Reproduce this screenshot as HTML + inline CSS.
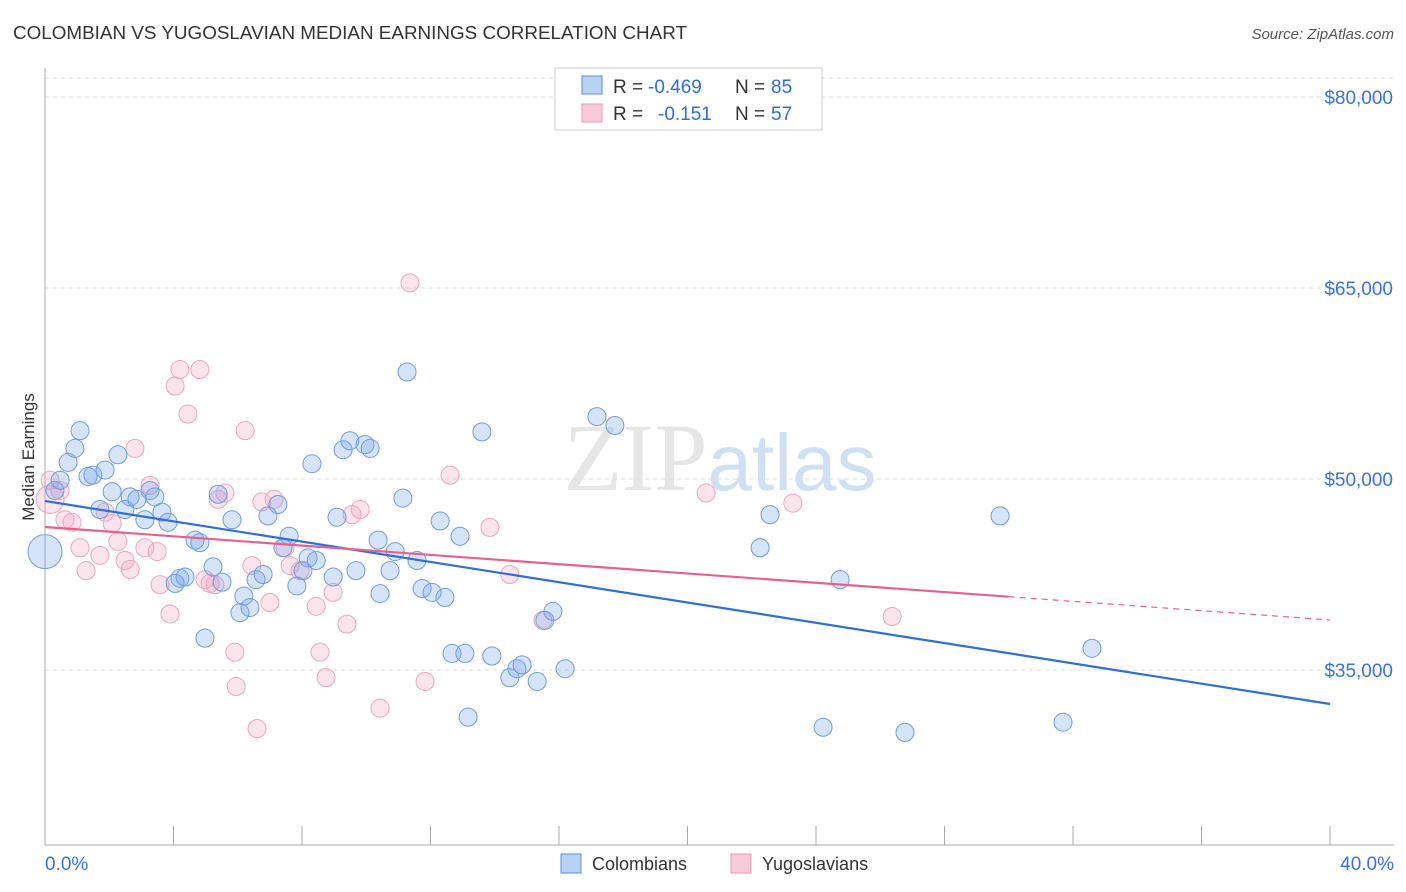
<!DOCTYPE html>
<html><head><meta charset="utf-8"><style>
body{margin:0;background:#fff;font-family:"Liberation Sans",sans-serif;}
svg{display:block}
</style></head><body>
<svg id="chart" width="1406" height="892" xmlns="http://www.w3.org/2000/svg">
<text x="13" y="39" font-size="18" fill="#333" textLength="674" lengthAdjust="spacingAndGlyphs">COLOMBIAN VS YUGOSLAVIAN MEDIAN EARNINGS CORRELATION CHART</text>
<text x="1394" y="39" font-size="15" fill="#555" text-anchor="end" font-style="italic">Source: ZipAtlas.com</text>
<text transform="translate(34,457) rotate(-90)" font-size="17" fill="#333" text-anchor="middle">Median Earnings</text>
<text x="720" y="490" font-size="96" fill="#e6e6e6" text-anchor="middle" font-family="Liberation Serif,serif">ZIP<tspan fill="#cfe0f4" font-family="Liberation Sans,sans-serif" font-size="80">atlas</tspan></text>
<g id="grid"></g><g id="axes"></g><g id="pts"></g><g id="lines"></g>
<g>
<rect x="555" y="68" width="267" height="62" fill="#fff" stroke="#ccc"/>
<rect x="582" y="76" width="20" height="18" fill="#b8d2f4" stroke="#5b8fd9"/>
<rect x="582" y="104" width="20" height="18" fill="#f9cbd9" stroke="#e79ab5"/>
<text x="613" y="93" font-size="19" fill="#333">R =</text>
<text x="648" y="93" font-size="19" fill="#2f6fd6">-0.469</text>
<text x="735" y="93" font-size="19" fill="#333">N =</text>
<text x="771" y="93" font-size="19" fill="#2f6fd6">85</text>
<text x="613" y="120" font-size="19" fill="#333">R =</text>
<text x="658" y="120" font-size="19" fill="#2f6fd6">-0.151</text>
<text x="735" y="120" font-size="19" fill="#333">N =</text>
<text x="771" y="120" font-size="19" fill="#2f6fd6">57</text>
</g>
<g>
<rect x="561" y="854" width="20" height="19" fill="#b8d2f4" stroke="#5b8fd9"/>
<text x="592" y="870" font-size="18" fill="#333">Colombians</text>
<rect x="731" y="854" width="20" height="19" fill="#f9cbd9" stroke="#e79ab5"/>
<text x="762" y="870" font-size="18" fill="#333">Yugoslavians</text>
</g>
</svg>
<script>
const yTicks=[35,50,65,80];
const yTickLabels=["$35,000","$50,000","$65,000","$80,000"];
const xTickLabels=["0.0%","40.0%"];
const blueX=[0.31,0.47,0.72,0.93,1.09,1.34,1.49,1.87,1.71,2.09,2.27,2.49,2.65,2.86,3.11,3.27,3.42,3.64,3.83,4.20,4.36,4.05,4.67,4.82,4.98,5.23,5.39,5.51,5.82,6.07,6.19,6.38,6.57,6.79,6.94,7.25,7.41,7.60,7.84,8.03,8.31,8.44,8.19,8.97,9.09,9.28,9.49,9.96,10.12,9.68,10.37,10.74,10.43,10.90,11.14,11.27,11.58,11.74,12.05,12.30,12.45,12.92,12.67,13.07,13.17,13.60,13.91,14.47,14.69,14.85,15.32,15.56,15.81,16.19,17.18,17.74,22.26,22.57,24.22,24.75,26.77,29.73,31.69,32.59];
const blueY=[49.1,49.9,51.3,52.4,53.8,50.2,50.3,50.7,47.6,49.0,51.9,47.6,48.6,48.4,46.8,49.1,48.6,47.4,46.6,42.2,42.3,41.8,45.2,45.0,37.5,43.1,48.8,41.9,46.8,39.5,40.8,39.9,42.1,42.5,47.1,48.0,44.6,45.5,41.6,42.8,51.2,43.6,43.8,42.3,47.0,52.3,53.0,52.7,52.4,42.8,45.2,42.8,41.0,44.3,48.5,58.4,43.6,41.4,41.1,46.7,40.7,45.5,36.3,36.3,31.3,53.7,36.1,34.4,35.1,35.4,34.1,38.9,39.6,35.1,54.9,54.2,44.6,47.2,30.5,42.1,30.1,47.1,30.9,36.7];
const pinkX=[0.16,0.47,0.62,0.84,1.09,1.28,1.71,1.87,2.09,2.27,2.49,2.65,2.80,3.11,3.27,3.49,3.58,3.89,4.05,4.20,4.45,4.82,4.98,5.14,5.29,5.39,5.60,5.91,5.95,6.23,6.44,6.60,6.75,7.00,7.13,7.47,7.63,7.94,8.44,8.56,8.75,8.97,9.40,9.56,9.81,10.43,11.36,11.83,12.61,13.85,14.47,15.50,20.58,23.28,26.37];
const pinkY=[49.9,49.1,46.8,46.6,44.6,42.8,44.0,47.4,46.5,45.1,43.6,42.9,52.4,44.6,49.5,44.3,41.7,39.4,57.3,58.6,55.1,58.6,42.1,41.8,41.7,48.4,48.9,36.4,33.7,53.8,43.2,30.4,48.2,40.3,48.4,44.6,43.2,42.8,40.0,36.4,34.4,41.1,38.6,47.2,47.6,32.0,65.4,34.1,50.3,46.2,42.5,38.9,48.9,48.1,39.2];
const bigBlue=[0.0,44.3], bigPink=[0.16,48.4];
const blueTrend=[48.27,32.33], pinkTrend=[46.23,38.93], pinkSolidEnd=30.0;
const xs=p=>45+p*32.125, ys=v=>97+(80-v)*12.733;
const NS="http://www.w3.org/2000/svg";
function mk(t,a,parent){const e=document.createElementNS(NS,t);for(const k in a)e.setAttribute(k,a[k]);document.getElementById(parent).appendChild(e);return e;}
let g=mk('line',{x1:45,x2:1394,y1:78,y2:78,stroke:'#ddd','stroke-dasharray':'4,4'},'grid');


yTicks.forEach((v,i)=>{
 const l=mk('line',{x1:45,x2:1394,y1:ys(v),y2:ys(v),stroke:'#ddd','stroke-dasharray':'4,4'},'grid');
 
 
 const t=mk('text',{x:1393,y:ys(v)+7,'font-size':19,fill:'#3a75d4','text-anchor':'end'},'axes');
 t.textContent=yTickLabels[i];
 
 
});
let ax=mk('line',{x1:45,x2:45,y1:68,y2:845,stroke:'#aaa'},'axes');


let bx=mk('line',{x1:45,x2:1394,y1:845,y2:845,stroke:'#aaa'},'axes');


for(let i=0;i<=10;i++){const x=45+i*128.5;
 const t=mk('line',{x1:x,x2:x,y1:826,y2:845,stroke:'#aaa'},'axes');
 
 }
[[0,'start',45],[1,'end',1394]].forEach(([i,a,x])=>{
 const t=mk('text',{x:x,y:870,'font-size':19,fill:'#3a75d4','text-anchor':a},'axes');
 t.textContent=xTickLabels[i];
 
 });
function dot(x,y,r,blue){
 const c=mk('circle',{cx:xs(x),cy:ys(y),r:r,fill:blue?'rgba(120,165,235,0.3)':'rgba(245,165,195,0.3)',stroke:blue?'#6f9de0':'#eaa6bf','stroke-width':1},'pts');
 
 }
dot(bigPink[0],bigPink[1],14,false);
dot(bigBlue[0],bigBlue[1],17,true);
pinkX.forEach((x,i)=>dot(x,pinkY[i],9,false));
blueX.forEach((x,i)=>dot(x,blueY[i],9,true));
let bl=mk('line',{x1:xs(0),y1:ys(blueTrend[0]),x2:xs(40),y2:ys(blueTrend[1]),stroke:'#2f6fd6','stroke-width':2.2},'lines');


const pAt=x=>pinkTrend[0]+(pinkTrend[1]-pinkTrend[0])*x/40;
let pl=mk('line',{x1:xs(0),y1:ys(pinkTrend[0]),x2:xs(pinkSolidEnd),y2:ys(pAt(pinkSolidEnd)),stroke:'#e5628d','stroke-width':2.2},'lines');


let pd=mk('line',{x1:xs(pinkSolidEnd),y1:ys(pAt(pinkSolidEnd)),x2:xs(40),y2:ys(pinkTrend[1]),stroke:'#e5628d','stroke-width':1.2,'stroke-dasharray':'6,5'},'lines');


</script>
</body></html>
